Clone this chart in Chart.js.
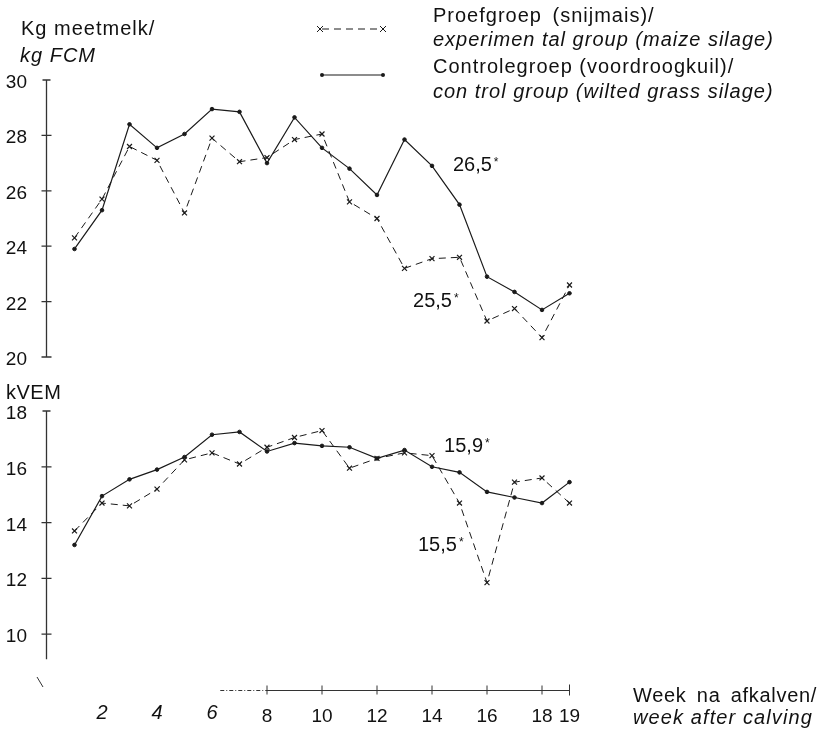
<!DOCTYPE html>
<html>
<head>
<meta charset="utf-8">
<script src="https://cdn.jsdelivr.net/npm/chart.js@4.4.1/dist/chart.umd.min.js"></script>
<style>
  body { margin: 0; background: #fff; }
  #wrap { position: relative; width: 817px; height: 729px; overflow: hidden; font-family: "Liberation Sans", Arial, sans-serif; color: #111; }
  canvas { position: absolute; left: 0; }
  .t { position: absolute; font-size: 18px; line-height: 18px; white-space: nowrap; }
  .b { font-size: 20px; line-height: 20px; letter-spacing: 1px; }
  .i { font-style: italic; }
  .t sup { font-size: 12px; vertical-align: top; position: relative; top: -2px; margin-left: 2px; }
</style>
</head>
<body>
<div id="wrap">
  <canvas id="milk" width="817" height="370" style="top:0"></canvas>
  <canvas id="vem" width="817" height="359" style="top:370px"></canvas>

  <div class="t b" style="left:21px;top:18px">Kg meetmelk/</div>
  <div class="t b i" style="left:20px;top:45px">kg FCM</div>
  <div class="t b" style="left:6px;top:382px;letter-spacing:0.5px">kVEM</div>

  <div class="t b" style="left:433px;top:5px;word-spacing:4px">Proefgroep (snijmais)/</div>
  <div class="t b i" style="left:433px;top:29px">experimen tal group (maize silage)</div>
  <div class="t b" style="left:433px;top:56px">Controlegroep (voordroogkuil)/</div>
  <div class="t b i" style="left:433px;top:81px">con trol group (wilted grass silage)</div>

  <div class="t b" style="left:633px;top:685px;letter-spacing:0.7px;word-spacing:4px">Week na afkalven/</div>
  <div class="t b i" style="left:633px;top:707px;letter-spacing:1.1px">week after calving</div>
</div>

<script>
// weeks after calving
const weeks = [1, 2, 3, 4, 5, 6, 7, 8, 9, 10, 11, 12, 13, 14, 15, 16, 17, 18, 19];

// kg FCM per cow per day
const milkExp  = [24.3, 25.7, 27.6, 27.1, 25.2, 27.9, 27.05, 27.2, 27.85, 28.05, 25.6, 25.0, 23.2, 23.55, 23.6, 21.3, 21.75, 20.7, 22.6];
const milkCtrl = [23.9, 25.3, 28.4, 27.55, 28.05, 28.95, 28.85, 27.0, 28.65, 27.55, 26.8, 25.85, 27.85, 26.9, 25.5, 22.9, 22.35, 21.7, 22.3];

// kVEM intake
const vemExp  = [13.7, 14.7, 14.6, 15.2, 16.25, 16.5, 16.1, 16.7, 17.05, 17.3, 15.95, 16.3, 16.5, 16.4, 14.7, 11.85, 15.45, 15.6, 14.7];
const vemCtrl = [13.2, 14.95, 15.55, 15.9, 16.35, 17.15, 17.25, 16.55, 16.85, 16.75, 16.7, 16.3, 16.6, 16.0, 15.8, 15.1, 14.9, 14.7, 15.45];

const milkTicks = [20, 22, 24, 26, 28, 30];
const vemTicks = [10, 12, 14, 16, 18];
const weekTicks = [8, 10, 12, 14, 16, 18, 19];
const weekLabels = [2, 4, 6, 8, 10, 12, 14, 16, 18, 19];

const ink = '#1a1a1a';
const wrap = document.getElementById('wrap');

function addText(html, left, top, cls, style) {
  const d = document.createElement('div');
  d.className = 't' + (cls ? ' ' + cls : '');
  d.innerHTML = html;
  d.style.left = left + 'px';
  d.style.top = top + 'px';
  if (style) Object.assign(d.style, style);
  wrap.appendChild(d);
  return d;
}

function series(values, dashed) {
  return {
    data: weeks.map((w, i) => ({ x: w, y: values[i] })),
    borderColor: ink,
    borderWidth: dashed ? 1 : 1.2,
    borderDash: dashed ? [7, 5] : [],
    pointStyle: dashed ? 'crossRot' : 'circle',
    pointRadius: dashed ? 3.5 : 1.8,
    pointBorderWidth: dashed ? 1.2 : 1,
    pointBackgroundColor: ink,
    pointBorderColor: ink,
    tension: 0,
    fill: false
  };
}

// left axis drawn like the original: T cap on top, crossing ticks
function yAxisPlugin(ticks, top, bottom) {
  return {
    id: 'leftAxis',
    afterDraw(chart) {
      const ctx = chart.ctx, y = chart.scales.y;
      const x0 = chart.chartArea.left - 0.5;
      ctx.save();
      ctx.strokeStyle = '#333';
      ctx.lineWidth = 1.3;
      ctx.beginPath();
      ctx.moveTo(x0, y.getPixelForValue(top));
      ctx.lineTo(x0, y.getPixelForValue(bottom));
      ctx.moveTo(x0 - 4, y.getPixelForValue(top));
      ctx.lineTo(x0 + 4, y.getPixelForValue(top));
      ticks.forEach(t => {
        if (t === top) return;
        const py = y.getPixelForValue(t);
        ctx.moveTo(x0 - 5, py);
        ctx.lineTo(x0 + 5, py);
      });
      ctx.stroke();
      ctx.restore();
    }
  };
}

const legendPlugin = {
  id: 'legendSamples',
  afterDraw(chart) {
    const ctx = chart.ctx;
    ctx.save();
    ctx.strokeStyle = ink;
    ctx.fillStyle = ink;
    ctx.lineWidth = 1;
    ctx.setLineDash([7, 5]);
    ctx.beginPath();
    ctx.moveTo(322, 29);
    ctx.lineTo(382, 29);
    ctx.stroke();
    ctx.setLineDash([]);
    [320, 383].forEach(px => {
      ctx.beginPath();
      ctx.moveTo(px - 3, 26); ctx.lineTo(px + 3, 32);
      ctx.moveTo(px + 3, 26); ctx.lineTo(px - 3, 32);
      ctx.stroke();
    });
    ctx.lineWidth = 1.2;
    ctx.beginPath();
    ctx.moveTo(322, 75);
    ctx.lineTo(383, 75);
    ctx.stroke();
    [322, 383].forEach(px => {
      ctx.beginPath();
      ctx.arc(px, 75, 2, 0, Math.PI * 2);
      ctx.fill();
    });
    ctx.restore();
  }
};

const xAxisPlugin = {
  id: 'bottomAxis',
  afterDraw(chart) {
    const ctx = chart.ctx, x = chart.scales.x;
    const py = chart.chartArea.bottom + 0.5;
    ctx.save();
    ctx.strokeStyle = '#333';
    ctx.lineWidth = 1;
    ctx.setLineDash([4, 2, 1, 2]);
    ctx.beginPath();
    ctx.moveTo(x.getPixelForValue(6.3), py);
    ctx.lineTo(x.getPixelForValue(8), py);
    ctx.stroke();
    ctx.setLineDash([]);
    ctx.beginPath();
    ctx.moveTo(x.getPixelForValue(8), py);
    ctx.lineTo(x.getPixelForValue(19), py);
    weekTicks.forEach(w => {
      const px = x.getPixelForValue(w);
      const h = w === 19 ? 6 : 5;
      ctx.moveTo(px, py - h);
      ctx.lineTo(px, py + h - 1);
    });
    // small stroke left below the y axis
    ctx.moveTo(37, 307);
    ctx.lineTo(43, 317);
    ctx.stroke();
    ctx.restore();
  }
};

function makeChart(id, datasets, yMin, yMax, padding, plugins) {
  return new Chart(document.getElementById(id), {
    type: 'line',
    data: { datasets },
    options: {
      responsive: false,
      animation: false,
      devicePixelRatio: 1,
      layout: { padding },
      plugins: { legend: { display: false }, tooltip: { enabled: false } },
      scales: {
        x: { type: 'linear', min: 0, max: 20, display: false },
        y: { min: yMin, max: yMax, display: false }
      }
    },
    plugins
  });
}

const milkChart = makeChart('milk',
  [series(milkExp, true), series(milkCtrl, false)],
  20, 30,
  { left: 47, right: 220, top: 80, bottom: 13 },
  [yAxisPlugin(milkTicks, 30, 20), legendPlugin]);

const vemChart = makeChart('vem',
  [series(vemExp, true), series(vemCtrl, false)],
  8, 18,
  { left: 47, right: 220, top: 41, bottom: 39 },
  [yAxisPlugin(vemTicks, 18, 9.1), xAxisPlugin]);

// tick labels and value notes, placed through the chart scales
function yLabels(chart, ticks, offset) {
  ticks.forEach(t => {
    const py = chart.scales.y.getPixelForValue(t) + offset;
    addText(String(t), 0, py - 8, '', { width: '27px', textAlign: 'right', fontSize: '19px', lineHeight: '19px' });
  });
}
yLabels(milkChart, milkTicks, 0);
yLabels(vemChart, vemTicks, 370);

const xs = vemChart.scales.x;
const axisY = vemChart.chartArea.bottom + 370;
weekLabels.forEach(w => {
  const italic = w <= 6;
  const px = xs.getPixelForValue(w);
  addText(String(w), px - 20, axisY + (italic ? 13 : 16), italic ? 'i' : '',
    { width: '40px', textAlign: 'center', fontSize: italic ? '20px' : '19px', lineHeight: '19px' });
});

const notes = [
  { chart: milkChart, offset: 0, text: '26,5', week: 14.76, value: 26.71 },
  { chart: milkChart, offset: 0, text: '25,5', week: 13.31, value: 21.81 },
  { chart: vemChart, offset: 370, text: '15,9', week: 14.44, value: 16.53 },
  { chart: vemChart, offset: 370, text: '15,5', week: 13.49, value: 12.98 }
];
notes.forEach(n => {
  const px = n.chart.scales.x.getPixelForValue(n.week);
  const py = n.chart.scales.y.getPixelForValue(n.value) + n.offset;
  addText(n.text + '<sup>*</sup>', px, py - 17, 'b', { letterSpacing: '0px' });
});
</script>
</body>
</html>
